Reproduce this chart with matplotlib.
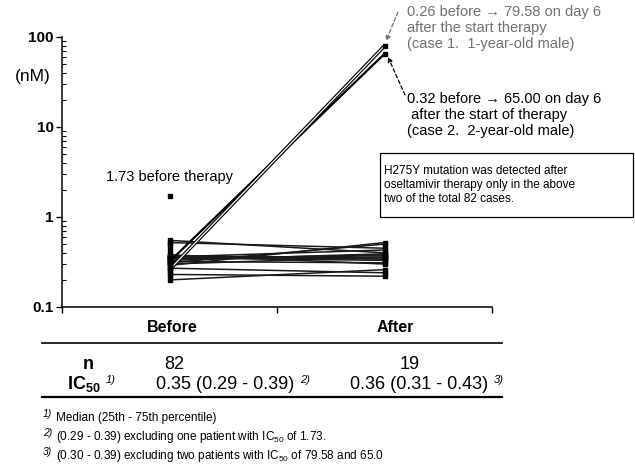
import matplotlib
matplotlib.use("Agg")
import matplotlib.pyplot as plt
from matplotlib.lines import Line2D
from matplotlib.patches import Rectangle

plt.rcParams['font.family'] = ['Liberation Sans', 'DejaVu Sans']
plt.rcParams['mathtext.fontset'] = 'custom'
plt.rcParams['mathtext.rm'] = 'Liberation Sans'
plt.rcParams['mathtext.it'] = 'Liberation Sans:italic'
plt.rcParams['mathtext.bf'] = 'Liberation Sans:bold'

# ---- data ----
categories = ["Before", "After"]
paired_before = [0.26, 0.32, 0.55, 0.52, 0.20, 0.23, 0.27, 0.30, 0.32, 0.34,
                 0.35, 0.36, 0.37, 0.38, 0.33, 0.31, 0.29, 0.36, 0.35]
paired_after = [79.58, 65.0, 0.40, 0.45, 0.26, 0.22, 0.24, 0.36, 0.31, 0.38,
                0.33, 0.43, 0.35, 0.30, 0.39, 0.50, 0.52, 0.34, 0.37]
unpaired_before = [1.73, 0.22, 0.25, 0.28, 0.31, 0.34, 0.37, 0.41, 0.45, 0.50]
yticks = [0.1, 1, 10, 100]
ytick_labels = ["0.1", "1", "10", "100"]
n_values = ["82", "19"]
ic50_values = ["0.35 (0.29 - 0.39)", "0.36 (0.31 - 0.43)"]
ic50_notes = ["2)", "3)"]
footnotes = [("1)", "Median (25th - 75th percentile)"),
             ("2)", r"(0.29 - 0.39) excluding one patient with IC$_{50}$ of 1.73."),
             ("3)", r"(0.30 - 0.39) excluding two patients with IC$_{50}$ of 79.58 and 65.0")]

W, H = 635, 465
fig = plt.figure(figsize=(W / 100, H / 100), dpi=100)

def fx(px):
    return px / W

def fy(py):
    return 1 - py / H

ax = fig.add_axes([fx(62), fy(307), fx(492) - fx(62), fy(37) - fy(307)])
ax.set_yscale('log')
ax.set_ylim(0.1, 100)
ax.set_xlim(0, 2)
xpos = [0.5, 1.5]

for i, (b, a) in enumerate(zip(paired_before, paired_after)):
    if i == 0:
        ax.plot(xpos, [b, a], color='black', lw=2.6, zorder=3,
                solid_capstyle='butt')
        ax.plot(xpos, [b, a], color='white', lw=0.9, zorder=3.1,
                solid_capstyle='butt')
    elif i == 1:
        ax.plot(xpos, [b, a], color='black', lw=1.6, zorder=3)
    else:
        ax.plot(xpos, [b, a], color='#1a1a1a', lw=1.1, zorder=2)

ax.plot([xpos[0]] * len(paired_before), paired_before, 's', color='black',
        ms=3.4, zorder=4, ls='none')
ax.plot([xpos[1]] * len(paired_after), paired_after, 's', color='black',
        ms=3.4, zorder=4, ls='none')
ax.plot([xpos[0]] * len(unpaired_before), unpaired_before, 's', color='black',
        ms=3.4, zorder=4, ls='none')

ax.set_yticks(yticks)
ax.set_yticklabels(ytick_labels, fontsize=11, fontweight='bold')
ax.tick_params(axis='y', which='major', direction='out', length=4, width=1, pad=2)
ax.tick_params(axis='y', which='minor', direction='in', length=3, width=0.8)
ax.set_xticks([0, 1, 2])
ax.set_xticklabels([])
ax.tick_params(axis='x', which='major', direction='out', length=4, width=1)
ax.spines['top'].set_visible(False)
ax.spines['right'].set_visible(False)
ax.spines['left'].set_linewidth(1.1)
ax.spines['bottom'].set_linewidth(1.1)

fig.text(fx(33), fy(77), "(nM)", fontsize=12.5, ha='center', va='center')

# annotations
ax.text(0.5, 2.75, "1.73 before therapy", fontsize=10.5, ha='center',
        va='center', transform=ax.transData)
fig.text(fx(407), fy(28), "0.26 before \u2192 79.58 on day 6\nafter the start therapy\n(case 1.  1-year-old male)",
         fontsize=10.5, color='#707070', ha='left', va='center', linespacing=1.15)
fig.text(fx(407), fy(115), "0.32 before \u2192 65.00 on day 6\n after the start of therapy\n(case 2.  2-year-old male)",
         fontsize=10.5, color='black', ha='left', va='center', linespacing=1.15)
ax.annotate("", xy=(fx(386), fy(41)), xycoords='figure fraction',
            xytext=(fx(398), fy(12)), textcoords='figure fraction',
            arrowprops=dict(arrowstyle='-|>', ls=(0, (3, 2)), color='#707070',
                            lw=0.9, mutation_scale=7, shrinkA=0, shrinkB=0))
ax.annotate("", xy=(fx(388), fy(57)), xycoords='figure fraction',
            xytext=(fx(405), fy(95)), textcoords='figure fraction',
            arrowprops=dict(arrowstyle='-|>', ls=(0, (3, 2)), color='black',
                            lw=0.9, mutation_scale=7, shrinkA=0, shrinkB=0))

fig.add_artist(Rectangle((fx(380), fy(217)), fx(633) - fx(380), fy(153) - fy(217),
                         transform=fig.transFigure, fill=False, ec='black', lw=0.9))
fig.text(fx(384), fy(185), "H275Y mutation was detected after\noseltamivir therapy only in the above\ntwo of the total 82 cases.",
         fontsize=8.5, ha='left', va='center', linespacing=1.2)

# table
lab_x = [172, 395]
for cx, c in zip(lab_x, categories):
    fig.text(fx(cx), fy(327), c, fontsize=11.5, fontweight='bold', ha='center', va='center')
fig.add_artist(Line2D([fx(42), fx(502)], [fy(343), fy(343)], color='black', lw=1.2,
                      transform=fig.transFigure))
fig.add_artist(Line2D([fx(42), fx(502)], [fy(397), fy(397)], color='black', lw=1.6,
                      transform=fig.transFigure))
fig.text(fx(88), fy(364), "n", fontsize=13, fontweight='bold', ha='center', va='center')
fig.text(fx(84), fy(384), r"$\mathbf{IC_{50}}$", fontsize=13, ha='center', va='center')
fig.text(fx(106), fy(380), "1)", fontsize=8, style='italic', ha='left', va='center')
n_x = [174, 410]
for cx, v in zip(n_x, n_values):
    fig.text(fx(cx), fy(364), v, fontsize=13, ha='center', va='center')
ic_x = [225, 419]
for cx, v, nt in zip(ic_x, ic50_values, ic50_notes):
    fig.text(fx(cx), fy(384), v, fontsize=13, ha='center', va='center')
    fig.text(fx(cx + 75), fy(380), nt, fontsize=8, style='italic', ha='left', va='center')

fy_foot = [418, 437, 456]
for (mark, txt), yy in zip(footnotes, fy_foot):
    fig.text(fx(43), fy(yy - 4), mark, fontsize=7.5, style='italic', ha='left', va='center')
    fig.text(fx(56), fy(yy), txt, fontsize=8.5, ha='left', va='center')

fig.savefig("out.png", dpi=100)
